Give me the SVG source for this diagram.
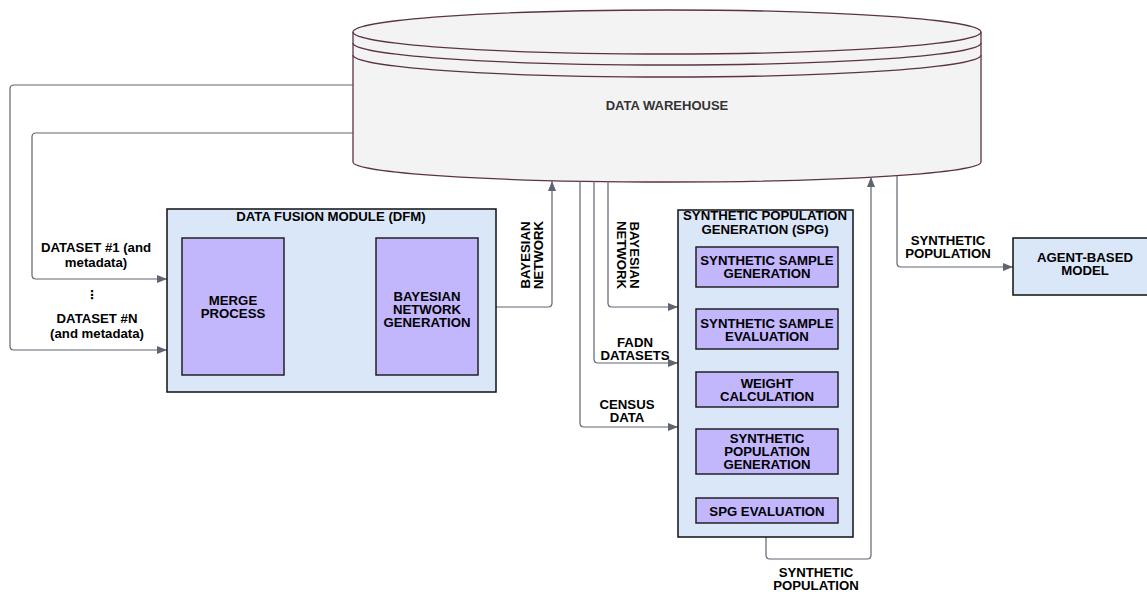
<svg xmlns="http://www.w3.org/2000/svg" width="1147" height="592" viewBox="0 0 1147 592">
<style>
text{font-family:"Liberation Sans",Arial,sans-serif;font-weight:bold;font-size:13.2px;fill:#000;text-anchor:middle}
.c{fill:none;stroke:#5f6570;stroke-width:1.2}
.k{fill:none;stroke:#000;stroke-width:1.5}
.mod{fill:#dae7f9;stroke:#111;stroke-width:1.5}
.p{fill:#c2b6fd;stroke:#222;stroke-width:1.5}
.cyl{fill:#f3f3f3;stroke:#5b3347;stroke-width:1.3}
.ln{fill:none;stroke:#5b3347;stroke-width:1.3}
</style>
<defs>
<marker id="ag" markerUnits="userSpaceOnUse" markerWidth="11" markerHeight="8" refX="10" refY="4" orient="auto"><path d="M0,0 L10,4 L0,8 z" fill="#5f6570"/></marker>
<marker id="ab" markerUnits="userSpaceOnUse" markerWidth="11" markerHeight="8" refX="10" refY="4" orient="auto"><path d="M0,0 L10,4 L0,8 z" fill="#000"/></marker>
</defs>
<rect width="1147" height="592" fill="#fff"/>

<g id="data-warehouse">
<path class="cyl" d="M353,32 A314,22 0 0 1 981,32 L981,162 A314,20 0 0 1 353,162 Z"/>
<path class="ln" d="M353,32 A314,22 0 0 0 981,32"/>
<path class="ln" d="M353,43 A314,22 0 0 0 981,43"/>
<path class="ln" d="M353,55 A314,22 0 0 0 981,55"/>
<text x="667" y="110" style="fill:#333;font-size:13px">DATA WAREHOUSE</text>
</g>

<g id="connectors">
<path class="c" d="M353,85 H14 Q10,85 10,89 V346 Q10,350 14,350 H167" marker-end="url(#ag)"/>
<path class="c" d="M353,133 H36 Q32,133 32,137 V275 Q32,279 36,279 H167" marker-end="url(#ag)"/>
<path class="c" d="M478,307 H548 Q552,307 552,303 V181" marker-end="url(#ag)"/>
<path class="c" d="M608,181 V303 Q608,307 612,307 H678" marker-end="url(#ag)"/>
<path class="c" d="M594,181 V359 Q594,363 598,363 H678" marker-end="url(#ag)"/>
<path class="c" d="M580,181 V423 Q580,427 584,427 H678" marker-end="url(#ag)"/>
<path class="c" d="M766,537 V555 Q766,559 770,559 H867 Q871,559 871,555 V177" marker-end="url(#ag)"/>
<path class="c" d="M897,176 V263 Q897,267 901,267 H1013" marker-end="url(#ag)"/>
<path class="k" d="M284,307 H376" marker-end="url(#ab)"/>
<path class="c" d="M767,287 V309" marker-end="url(#ag)"/>
<path class="c" d="M767,349 V372" marker-end="url(#ag)"/>
<path class="c" d="M767,407 V429" marker-end="url(#ag)"/>
<path class="c" d="M767,474 V498" marker-end="url(#ag)"/>
<text x="96" y="252">DATASET #1 (and</text>
<text x="96" y="267">metadata)</text>
<text x="92" y="299" style="font-family:'DejaVu Sans',sans-serif;font-size:12px">⋮</text>
<text x="97" y="323">DATASET #N</text>
<text x="97" y="338">(and metadata)</text>
<text x="330" y="283">ENRICHED</text>
<text x="330" y="296">DATASET</text>
<g transform="translate(532,255) rotate(-90)"><text x="0" y="-2">BAYESIAN</text><text x="0" y="11">NETWORK</text></g>
<g transform="translate(628,255) rotate(90)"><text x="0" y="-2">BAYESIAN</text><text x="0" y="11">NETWORK</text></g>
<text x="635" y="347">FADN</text>
<text x="635" y="360">DATASETS</text>
<text x="627" y="409">CENSUS</text>
<text x="627" y="422">DATA</text>
<text x="816" y="577">SYNTHETIC</text>
<text x="816" y="590">POPULATION</text>
<text x="948" y="245">SYNTHETIC</text>
<text x="948" y="258">POPULATION</text>
</g>

<g id="dfm">
<rect class="mod" x="167" y="209" width="329" height="183"/>
<text x="331" y="221">DATA FUSION MODULE (DFM)</text>
</g>
<g id="merge-process">
<rect class="p" x="182" y="238" width="102" height="137"/>
<text x="233" y="305">MERGE</text>
<text x="233" y="318">PROCESS</text>
</g>
<g id="bn-generation">
<rect class="p" x="376" y="238" width="102" height="137"/>
<text x="427" y="301">BAYESIAN</text>
<text x="427" y="314">NETWORK</text>
<text x="427" y="327">GENERATION</text>
</g>

<g id="spg">
<rect class="mod" x="678" y="210" width="175" height="327"/>
<text x="765" y="220">SYNTHETIC POPULATION</text>
<text x="765" y="234">GENERATION (SPG)</text>
</g>
<g id="ss-generation">
<rect class="p" x="696" y="247" width="142" height="40"/>
<text x="767" y="265">SYNTHETIC SAMPLE</text>
<text x="767" y="278">GENERATION</text>
</g>
<g id="ss-evaluation">
<rect class="p" x="696" y="309" width="142" height="40"/>
<text x="767" y="328">SYNTHETIC SAMPLE</text>
<text x="767" y="341">EVALUATION</text>
</g>
<g id="weight-calculation">
<rect class="p" x="696" y="372" width="142" height="35"/>
<text x="767" y="388">WEIGHT</text>
<text x="767" y="401">CALCULATION</text>
</g>
<g id="sp-generation">
<rect class="p" x="696" y="429" width="142" height="45"/>
<text x="767" y="443">SYNTHETIC</text>
<text x="767" y="456">POPULATION</text>
<text x="767" y="469">GENERATION</text>
</g>
<g id="spg-evaluation">
<rect class="p" x="696" y="498" width="142" height="25"/>
<text x="767" y="516">SPG EVALUATION</text>
</g>

<g id="agent-based-model">
<rect class="mod" x="1013" y="238" width="144" height="57"/>
<text x="1085" y="262">AGENT-BASED</text>
<text x="1085" y="275">MODEL</text>
</g>
</svg>
